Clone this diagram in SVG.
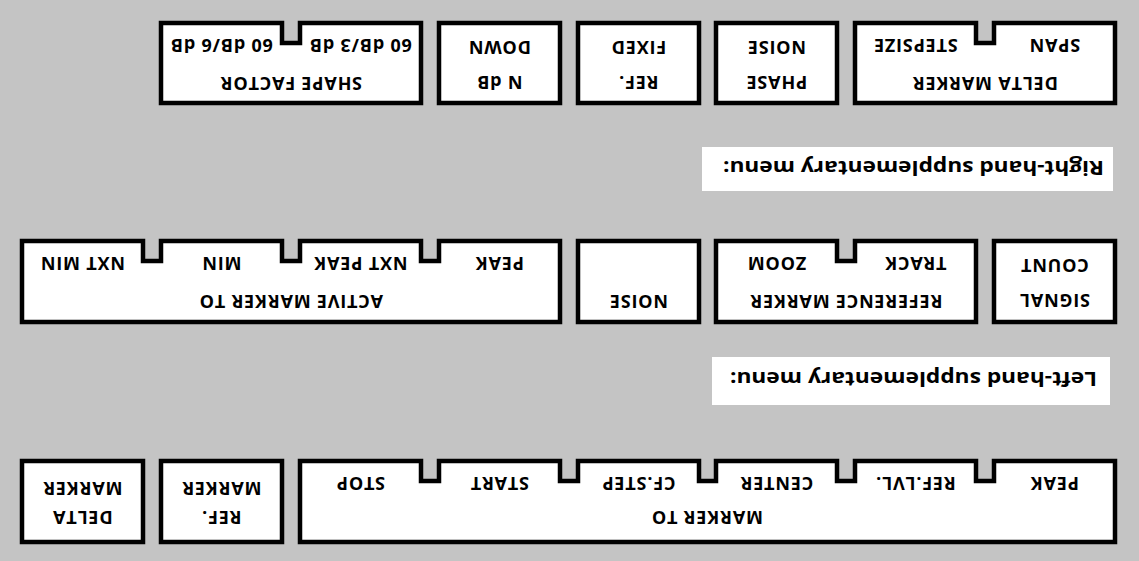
<svg xmlns="http://www.w3.org/2000/svg" width="1139" height="561" viewBox="0 0 1139 561">
<style>
.bx{fill:#fff;stroke:#000;stroke-width:4.5;stroke-linejoin:miter}
.t{font-family:"Open Sans","Liberation Sans",sans-serif;font-weight:700;font-size:18px;letter-spacing:0.8px;fill:#000;text-anchor:middle;dominant-baseline:central}
.band{fill:#fff}
.h{font-family:"Open Sans","Liberation Sans",sans-serif;font-weight:700;font-size:19px;fill:#000;text-anchor:start;dominant-baseline:central}
</style>
<rect x="0" y="0" width="1139" height="561" fill="#c4c4c4"/>
<g id="connectors"/>

<!-- Top row (right-hand supplementary menu) -->
<g id="shape-factor">
<path class="bx" d="M161,23 H282 V43 H300 V23 H421 V103 H161 Z"/>
<text class="t" x="221.5" y="46" transform="rotate(180 221.5 46)">60 dB/6 dB</text>
<text class="t" x="360.5" y="46" transform="rotate(180 360.5 46)">60 dB/3 dB</text>
<text class="t" x="291" y="84" transform="rotate(180 291 84)">SHAPE FACTOR</text>
</g>
<g id="n-db-down">
<rect class="bx" x="439" y="23" width="121" height="80"/>
<text class="t" x="499.5" y="83" transform="rotate(180 499.5 83)">N dB</text>
<text class="t" x="499.5" y="48" transform="rotate(180 499.5 48)">DOWN</text>
</g>
<g id="ref-fixed">
<rect class="bx" x="578" y="23" width="121" height="80"/>
<text class="t" x="638.5" y="83" transform="rotate(180 638.5 83)">REF.</text>
<text class="t" x="638.5" y="48" transform="rotate(180 638.5 48)">FIXED</text>
</g>
<g id="phase-noise">
<rect class="bx" x="716" y="23" width="121" height="80"/>
<text class="t" x="776.5" y="83" transform="rotate(180 776.5 83)">PHASE</text>
<text class="t" x="776.5" y="48" transform="rotate(180 776.5 48)">NOISE</text>
</g>
<g id="delta-marker-top">
<path class="bx" d="M855,23 H976 V43 H994 V23 H1115 V103 H855 Z"/>
<text class="t" x="915.5" y="46" transform="rotate(180 915.5 46)">STEPSIZE</text>
<text class="t" x="1054.5" y="46" transform="rotate(180 1054.5 46)">SPAN</text>
<text class="t" x="985" y="84" transform="rotate(180 985 84)">DELTA MARKER</text>
</g>

<g id="right-hand-title">
<rect class="band" x="702" y="147" width="411" height="44"/>
<text class="h" x="1104" y="168" textLength="381" lengthAdjust="spacingAndGlyphs" transform="rotate(180 1104 168)">Right-hand supplementary menu:</text>
</g>

<!-- Middle row -->
<g id="active-marker-to">
<path class="bx" d="M22,241 H143 V261 H161 V241 H282 V261 H300 V241 H421 V261 H439 V241 H560 V322 H22 Z"/>
<text class="t" x="82.5" y="264" transform="rotate(180 82.5 264)">NXT MIN</text>
<text class="t" x="221.5" y="264" transform="rotate(180 221.5 264)">MIN</text>
<text class="t" x="360.5" y="264" transform="rotate(180 360.5 264)">NXT PEAK</text>
<text class="t" x="499.5" y="264" transform="rotate(180 499.5 264)">PEAK</text>
<text class="t" x="291" y="302" transform="rotate(180 291 302)">ACTIVE MARKER TO</text>
</g>
<g id="noise">
<rect class="bx" x="578" y="241" width="121" height="81"/>
<text class="t" x="638.5" y="302" transform="rotate(180 638.5 302)">NOISE</text>
</g>
<g id="reference-marker">
<path class="bx" d="M716,241 H837 V261 H855 V241 H976 V322 H716 Z"/>
<text class="t" x="776.5" y="264" transform="rotate(180 776.5 264)">ZOOM</text>
<text class="t" x="915.5" y="264" transform="rotate(180 915.5 264)">TRACK</text>
<text class="t" x="846" y="302" transform="rotate(180 846 302)">REFERENCE MARKER</text>
</g>
<g id="signal-count">
<rect class="bx" x="994" y="241" width="121" height="81"/>
<text class="t" x="1054.5" y="301" transform="rotate(180 1054.5 301)">SIGNAL</text>
<text class="t" x="1054.5" y="266" transform="rotate(180 1054.5 266)">COUNT</text>
</g>

<g id="left-hand-title">
<rect class="band" x="712" y="357" width="398" height="48"/>
<text class="h" x="1097" y="379" textLength="367" lengthAdjust="spacingAndGlyphs" transform="rotate(180 1097 379)">Left-hand supplementary menu:</text>
</g>

<!-- Bottom row -->
<g id="delta-marker">
<rect class="bx" x="22" y="461" width="121" height="81"/>
<text class="t" x="82.5" y="518" transform="rotate(180 82.5 518)">DELTA</text>
<text class="t" x="82.5" y="489" transform="rotate(180 82.5 489)">MARKER</text>
</g>
<g id="ref-marker">
<rect class="bx" x="161" y="461" width="121" height="81"/>
<text class="t" x="221.5" y="518" transform="rotate(180 221.5 518)">REF.</text>
<text class="t" x="221.5" y="489" transform="rotate(180 221.5 489)">MARKER</text>
</g>
<g id="marker-to">
<path class="bx" d="M300,461 H421 V481 H439 V461 H560 V481 H578 V461 H699 V481 H716 V461 H837 V481 H855 V461 H976 V481 H994 V461 H1115 V542 H300 Z"/>
<text class="t" x="360.5" y="484" transform="rotate(180 360.5 484)">STOP</text>
<text class="t" x="499.5" y="484" transform="rotate(180 499.5 484)">START</text>
<text class="t" x="638.5" y="484" transform="rotate(180 638.5 484)">CF.STEP</text>
<text class="t" x="776.5" y="484" transform="rotate(180 776.5 484)">CENTER</text>
<text class="t" x="915.5" y="484" transform="rotate(180 915.5 484)">REF.LVL.</text>
<text class="t" x="1054.5" y="484" transform="rotate(180 1054.5 484)">PEAK</text>
<text class="t" x="707" y="518" transform="rotate(180 707 518)">MARKER TO</text>
</g>
</svg>
